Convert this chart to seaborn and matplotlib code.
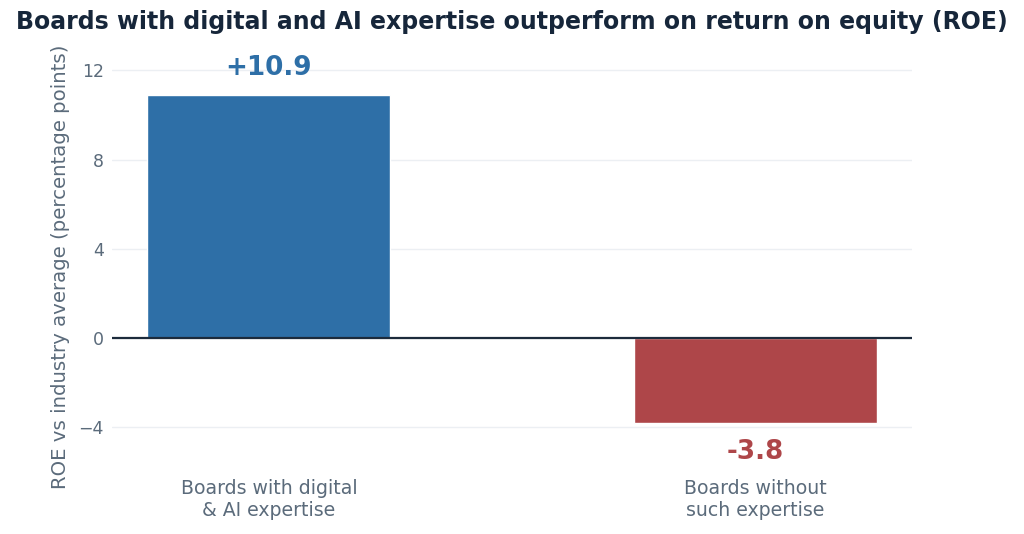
import numpy as np
import pandas as pd
import seaborn as sns
from matplotlib import pyplot as plt

categories = ["Boards with digital\n& AI expertise", "Boards without\nsuch expertise"]
roe_diff = [10.9, -3.8]
value_labels = ["+10.9", "-3.8"]
bar_colors = ["#2e6fa7", "#ae4649"]
y_ticks = [-4, 0, 4, 8, 12]

TEXT_GREY = "#5b6b7b"
TITLE_COLOR = "#16263a"

df = pd.DataFrame({"group": categories, "roe": roe_diff})

sns.set_theme(style="white")
plt.rcParams["font.family"] = ["DejaVu Sans"]

fig = plt.figure(figsize=(10.24, 5.34), dpi=100)
ax = fig.add_axes([112 / 1024, 1 - 472 / 534, 800 / 1024, (472 - 48) / 534])

sns.barplot(
    data=df,
    x="group",
    y="roe",
    hue="group",
    palette=bar_colors,
    width=0.5,
    saturation=1,
    legend=False,
    ax=ax,
)

ax.set_xlim(-0.323, 1.323)
ax.set_ylim(-6, 13)
ax.set_yticks(y_ticks)
ax.set_yticklabels([f"{t:d}".replace("-", "\u2212") for t in y_ticks])
ax.grid(axis="y", color="#eceff3", linewidth=1)
ax.set_axisbelow(True)
ax.axhline(0, color="#1c2b3c", linewidth=1.6, zorder=3)
for s in ax.spines.values():
    s.set_visible(False)

ax.tick_params(axis="both", length=0, labelcolor=TEXT_GREY)
ax.tick_params(axis="y", pad=6, labelsize=12.5)
ax.tick_params(axis="x", pad=5, labelsize=13.6)
ax.set_xlabel("")
ax.set_ylabel("ROE vs industry average (percentage points)", fontsize=14.2, color=TEXT_GREY)
ax.yaxis.set_label_coords(-0.053, (472 - 267) / (472 - 48))

for i, (v, lab) in enumerate(zip(roe_diff, value_labels)):
    ax.annotate(
        lab,
        xy=(i, v),
        xytext=(0, 19 if v >= 0 else -21),
        textcoords="offset points",
        ha="center",
        va="center",
        fontsize=18.9,
        fontweight="bold",
        color=bar_colors[i],
    )

fig.suptitle(
    "Boards with digital and AI expertise outperform on return on equity (ROE)",
    x=0.5,
    y=1 - 22 / 534,
    va="center",
    fontsize=17,
    fontweight="bold",
    color=TITLE_COLOR,
)

fig.savefig("out.png", dpi=100)
